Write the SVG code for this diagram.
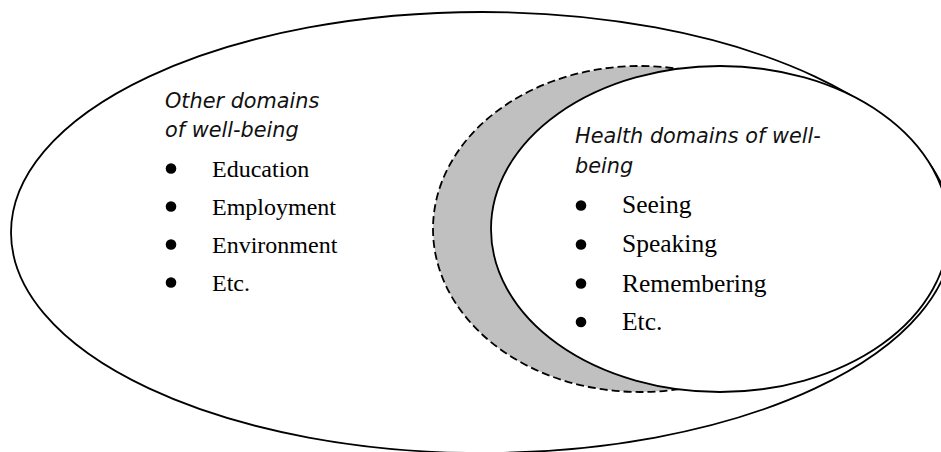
<svg xmlns="http://www.w3.org/2000/svg" width="941" height="452" viewBox="0 0 941 452">
  <style>
    .line { stroke: #000; stroke-width: 1.8; }
    .dash { stroke: #000; stroke-width: 1.8; stroke-dasharray: 8 4; fill: #c0c0c0; }
    .title { font-family: "DejaVu Sans", "Liberation Sans", sans-serif; font-style: italic; font-size: 20.8px; fill: #111; }
    .item { font-family: "Liberation Serif", "Times New Roman", serif; fill: #000; }
    .left { font-size: 24px; }
    .right { font-size: 25.5px; }
    .bullet { fill: #000; }
  </style>
  <rect x="0" y="0" width="941" height="452" fill="#fff"/>

  <g id="other-domains">
    <ellipse class="line" cx="482" cy="232.5" rx="471" ry="220.5" fill="#fff"/>
    <text class="title" x="165" y="107.5">Other domains</text>
    <text class="title" x="165" y="136.5">of well-being</text>
    <circle class="bullet" cx="171" cy="168.5" r="5.3"/>
    <text class="item left" x="212" y="177">Education</text>
    <circle class="bullet" cx="171" cy="206.5" r="5.3"/>
    <text class="item left" x="212" y="215">Employment</text>
    <circle class="bullet" cx="171" cy="244.5" r="5.3"/>
    <text class="item left" x="212" y="253">Environment</text>
    <circle class="bullet" cx="171" cy="282.5" r="5.3"/>
    <text class="item left" x="212" y="291">Etc.</text>
  </g>

  <g id="health-extension">
    <ellipse class="dash" cx="640" cy="229" rx="207" ry="163"/>
  </g>

  <g id="health-domains">
    <ellipse class="line" cx="720" cy="229" rx="229" ry="163" fill="#fff"/>
    <text class="title" x="575" y="143.3">Health domains of well-</text>
    <text class="title" x="575" y="173.3">being</text>
    <circle class="bullet" cx="581" cy="205.5" r="5.3"/>
    <text class="item right" x="622" y="213.3">Seeing</text>
    <circle class="bullet" cx="581" cy="244.5" r="5.3"/>
    <text class="item right" x="622" y="252">Speaking</text>
    <circle class="bullet" cx="581" cy="283.5" r="5.3"/>
    <text class="item right" x="622" y="291.7">Remembering</text>
    <circle class="bullet" cx="581" cy="322" r="5.3"/>
    <text class="item right" x="622" y="330">Etc.</text>
  </g>

  <g id="connectors"/>
</svg>
